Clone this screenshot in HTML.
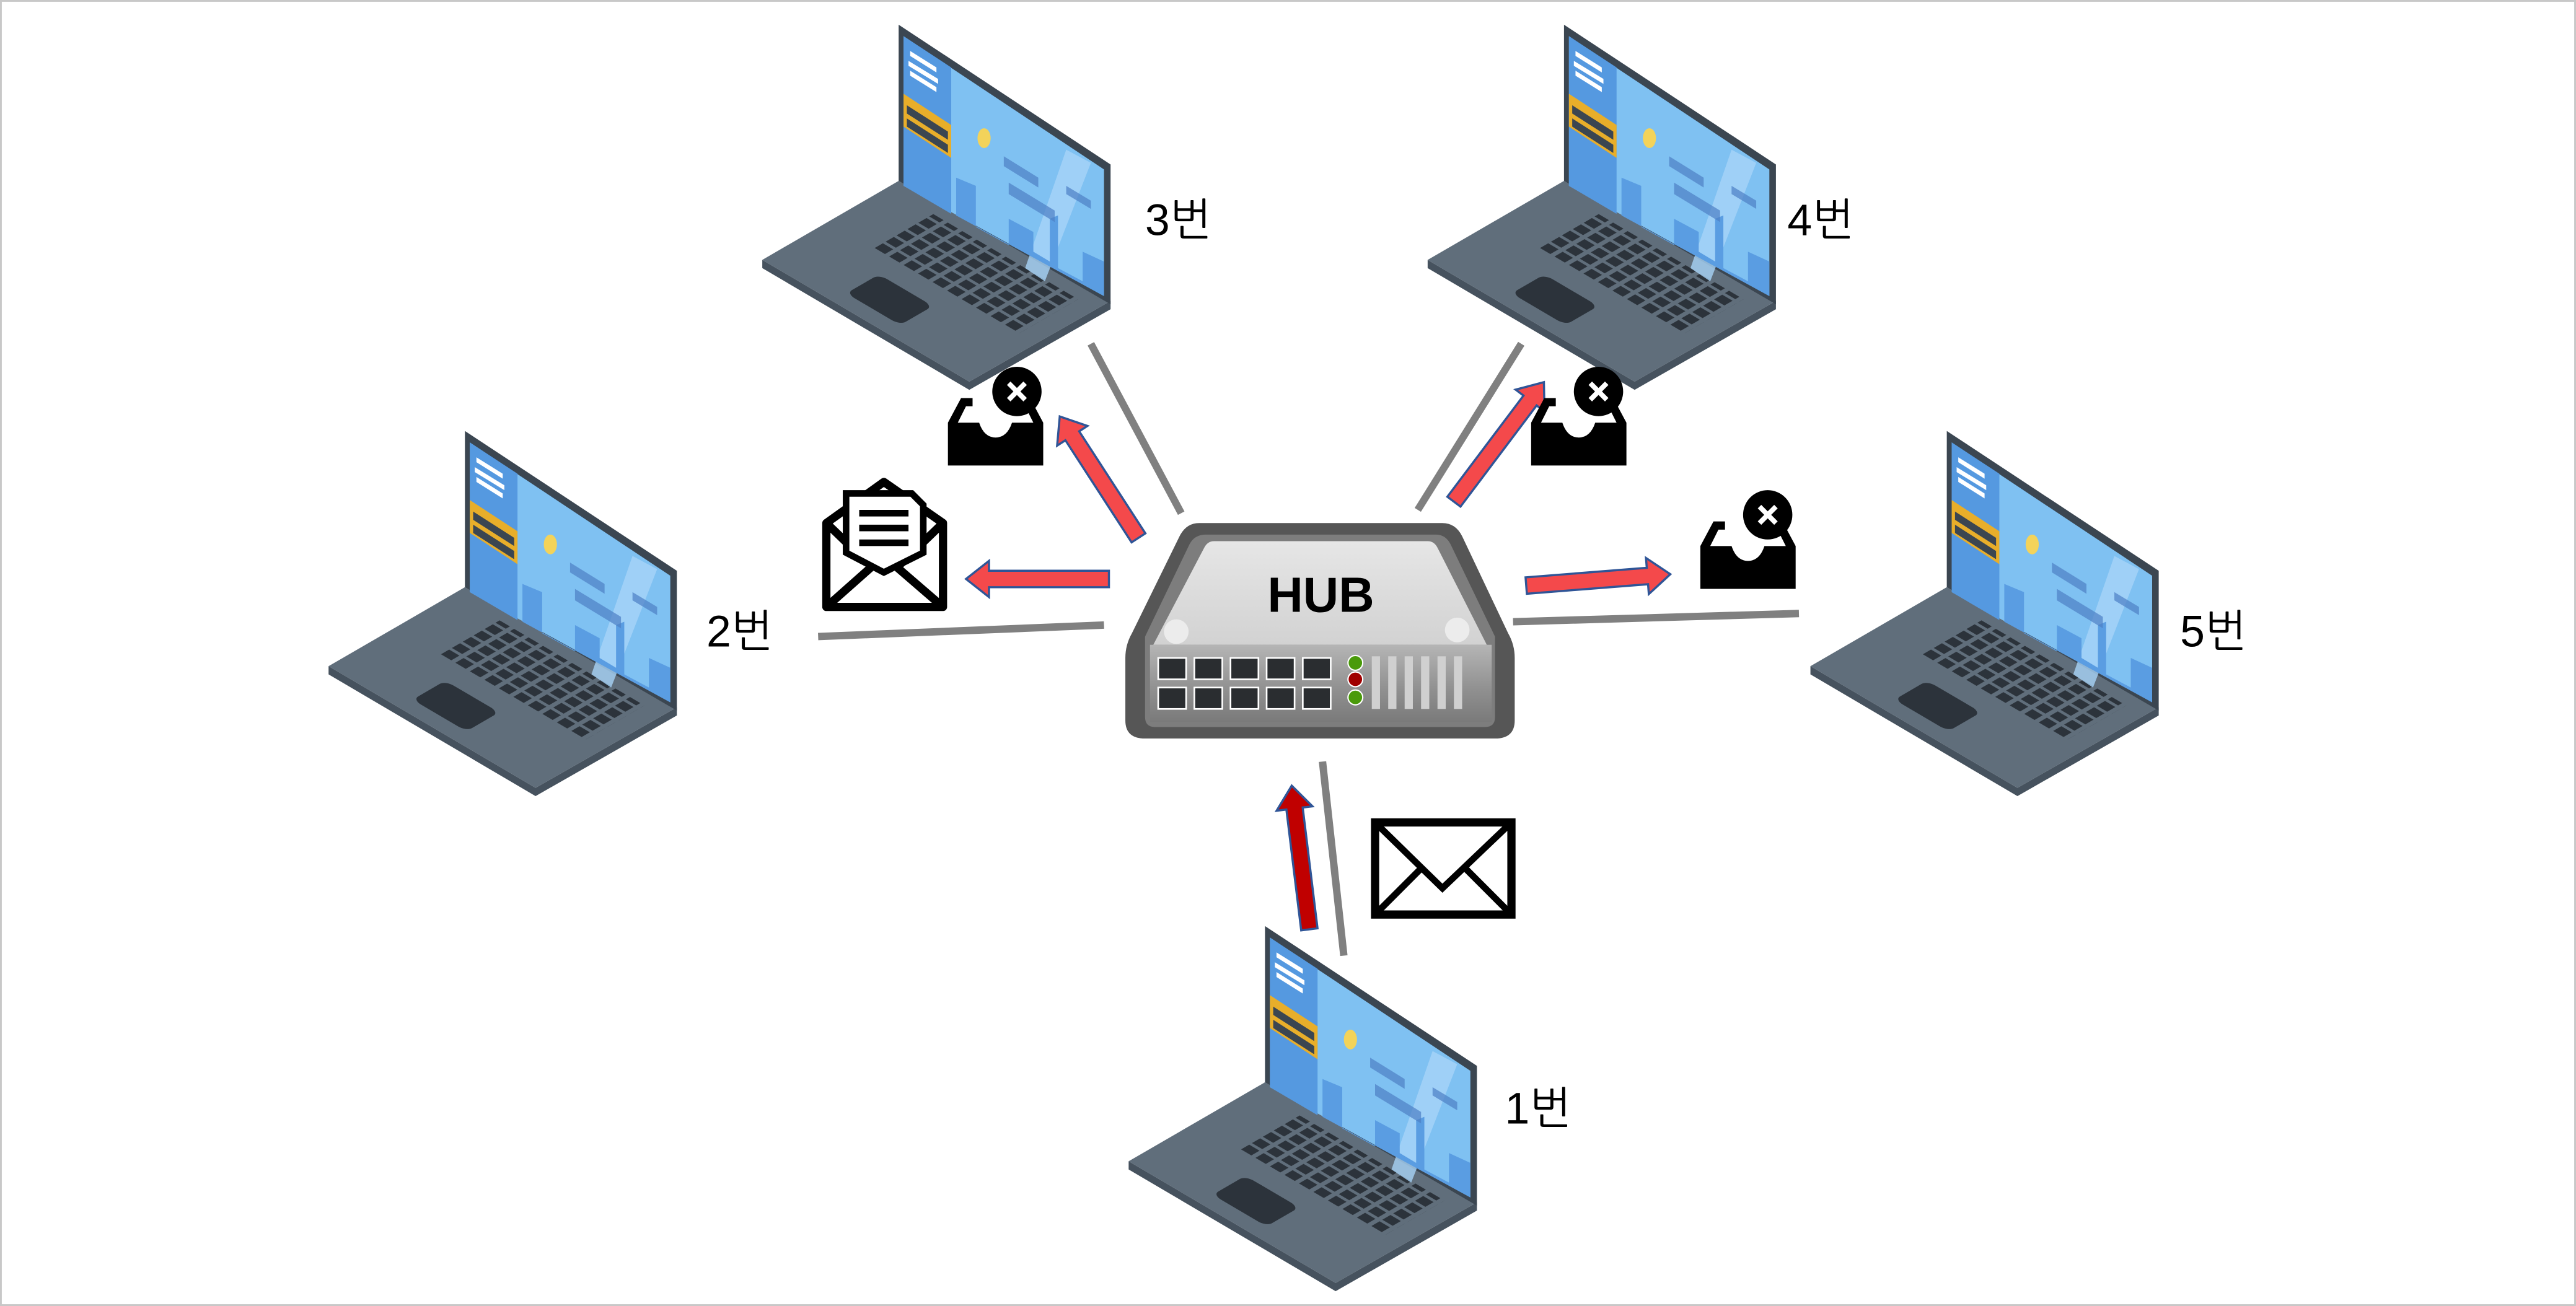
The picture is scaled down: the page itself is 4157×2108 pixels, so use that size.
<!DOCTYPE html>
<html><head><meta charset="utf-8"><style>
html,body{margin:0;padding:0;background:#fff;}
svg{display:block;}
</style></head><body>
<svg width="4157" height="2108" viewBox="0 0 1568 794" preserveAspectRatio="none" xmlns="http://www.w3.org/2000/svg">
<defs>
<pattern id="keys" width="7" height="8" patternUnits="userSpaceOnUse">
<rect x="1" y="1" width="5" height="6" fill="#2c333b"/>
</pattern>
<linearGradient id="panel" x1="0" y1="0" x2="0" y2="1">
<stop offset="0" stop-color="#b5b5b5"/><stop offset="0.6" stop-color="#8f8f8f"/><stop offset="1" stop-color="#7a7a7a"/>
</linearGradient>
<linearGradient id="face" x1="0" y1="0" x2="0" y2="1">
<stop offset="0" stop-color="#e6e6e6"/><stop offset="1" stop-color="#d2d2d2"/>
</linearGradient>
<g id="laptop">
<polygon points="0,145 126,219 212,170 212,175 126,224 0,150" fill="#46525e"/>
<polygon points="0,145 83,97 212,170 126,219" fill="#606e7b"/>
<g transform="matrix(1.26,0.74,0.83,-0.48,0,145)">
<rect x="22" y="48" width="70" height="44" fill="url(#keys)"/>
<rect x="34" y="10" width="26" height="24" rx="4" fill="#2c333b"/>
</g>
<polygon points="83,2 212,87 212,172 83,97" fill="#3b4651"/>
<polygon points="86,9 208,90 208,167 86,100" fill="#7fc1f2"/>
<polygon points="160,150 185,78 200,86 172,158" fill="#a8d3f7" opacity="0.8"/>
<polygon points="118,118 118,95 130,100 130,125 150,136 150,120 165,128 165,140 175,146 175,120 180,118 180,150 195,158 195,140 208,146 208,167" fill="#5a9de2"/>
<polygon points="86,9 115,28 115,117 86,100" fill="#5599e0"/>
<polygon points="86,44 115,63 115,83 86,64" fill="#e8ae2a"/>
<polygon points="88,51 113,67 113,72 88,56" fill="#3b4651"/>
<polygon points="88,59 113,75 113,80 88,64" fill="#3b4651"/>
<polygon points="90,18 106,28 106,31 90,21" fill="#fff"/>
<polygon points="89,24 107,35 107,38 89,27" fill="#fff"/>
<polygon points="90,30 106,40 106,43 90,33" fill="#fff"/>
<ellipse cx="135" cy="71" rx="4" ry="6" fill="#f3d35a"/>
<polygon points="147,82 168,95 168,101 147,88" fill="#4d7fc4" opacity="0.7"/>
<polygon points="150,98 178,115 178,122 150,105" fill="#4d7fc4" opacity="0.7"/>
<polygon points="185,100 200,109 200,114 185,105" fill="#4d7fc4" opacity="0.7"/>
</g>
<g id="inbox">
<path d="M0,20 L8,5 L15,5 L15,10 L11,10 L6,20 L19,20 Q22,29 29,29 Q36,29 39,20 L52,20 L47,10 L43,10 L43,5 L50,5 L58,20 L58,46 L0,46Z" fill="#000"/>
</g>
<g id="xc"><circle r="15" fill="#000"/><path d="M-5,-5 L5,5 M5,-5 L-5,5" stroke="#fff" stroke-width="3"/></g>
</defs>
<rect x="0.5" y="0.5" width="1567" height="793" fill="#fff" stroke="#c8c8c8" stroke-width="1.2"/>

<g stroke="#808080" stroke-width="4.5">
<line x1="664" y1="209" x2="719" y2="312"/>
<line x1="926" y1="209" x2="863" y2="310"/>
<line x1="498" y1="387" x2="672" y2="380"/>
<line x1="921" y1="378" x2="1095" y2="373"/>
<line x1="805" y1="463" x2="818" y2="581"/>
</g>

<use href="#laptop" transform="translate(464,13)"/>
<use href="#laptop" transform="translate(869,13)"/>
<use href="#laptop" transform="translate(200,260)"/>
<use href="#laptop" transform="translate(1102,260)"/>
<use href="#laptop" transform="translate(687,561)"/>

<g font-family="Liberation Sans, NanumGothic, 'Noto Sans CJK KR', sans-serif" font-size="27" fill="#000">
<text x="697" y="143">3번</text>
<text x="1088" y="143">4번</text>
<text x="430" y="393">2번</text>
<text x="1327" y="393">5번</text>
<text x="916" y="683">1번</text>
</g>

<g stroke="#2f5597" stroke-width="1.3">
<g transform="translate(693,327) rotate(-123)"><polygon points="0,-5 74,-5 74,-11 88,0 74,11 74,5 0,5" fill="#f4494b"/></g>
<g transform="translate(675,352) rotate(180)"><polygon points="0,-5 73,-5 73,-11 87,0 73,11 73,5 0,5" fill="#f4494b"/></g>
<g transform="translate(885,305) rotate(-53)"><polygon points="0,-5 77,-5 77,-11 91,0 77,11 77,5 0,5" fill="#f4494b"/></g>
<g transform="translate(929,356) rotate(-4.5)"><polygon points="0,-5 74,-5 74,-11 88,0 74,11 74,5 0,5" fill="#f4494b"/></g>
<g transform="translate(797,565) rotate(-97)"><polygon points="0,-5 74,-5 74,-11 88,0 74,11 74,5 0,5" fill="#c00000"/></g>
</g>

<path d="M730,318 L878,318 Q886,318 890,326 L918,385 Q922,392 922,400 L922,438 Q922,449 910,449 L697,449 Q685,449 685,438 L685,400 Q685,392 689,385 L718,326 Q722,318 730,318Z" fill="#565656"/>
<path d="M734,325 L874,325 Q880,325 883,331 L910,387 L910,436 Q910,442 904,442 L703,442 Q697,442 697,436 L697,387 L724,331 Q727,325 734,325Z" fill="#7d7d7d"/>
<path d="M739,329 L869,329 Q873,329 875,333 L905,392 L702,392 L733,333 Q735,329 739,329Z" fill="url(#face)"/>
<rect x="700" y="392" width="208" height="47" fill="url(#panel)"/>
<circle cx="716" cy="384" r="7.5" fill="#ececec"/>
<circle cx="887" cy="383" r="7.5" fill="#ececec"/>
<text x="804" y="372" text-anchor="middle" font-family="Liberation Sans, sans-serif" font-weight="bold" font-size="30" fill="#000">HUB</text>
<g fill="#2a2d30" stroke="#fff" stroke-width="1">
<rect x="705" y="400" width="17" height="13"/><rect x="727" y="400" width="17" height="13"/><rect x="749" y="400" width="17" height="13"/><rect x="771" y="400" width="17" height="13"/><rect x="793" y="400" width="17" height="13"/>
<rect x="705" y="418" width="17" height="13"/><rect x="727" y="418" width="17" height="13"/><rect x="749" y="418" width="17" height="13"/><rect x="771" y="418" width="17" height="13"/><rect x="793" y="418" width="17" height="13"/>
</g>
<g stroke="#fff" stroke-width="0.8">
<circle cx="825" cy="403" r="4.5" fill="#4a9a0a"/>
<circle cx="825" cy="413" r="4.5" fill="#a00000"/>
<circle cx="825" cy="424" r="4.5" fill="#4a9a0a"/>
</g>
<g fill="#d0d0d0">
<rect x="835" y="399" width="5" height="32"/><rect x="845" y="399" width="5" height="32"/><rect x="855" y="399" width="5" height="32"/><rect x="865" y="399" width="5" height="32"/><rect x="875" y="399" width="5" height="32"/><rect x="885" y="399" width="5" height="32"/>
</g>

<use href="#inbox" transform="translate(577,237)"/>
<use href="#xc" transform="translate(619,238)"/>
<use href="#inbox" transform="translate(932,237)"/>
<use href="#xc" transform="translate(973,238)"/>
<use href="#inbox" transform="translate(1035,312)"/>
<use href="#xc" transform="translate(1076,313)"/>

<g fill="none" stroke="#000" stroke-width="5" stroke-linejoin="round">
<path d="M503,318 L538,293 L574,318 L574,369 L503,369 Z"/>
<path d="M503,369 L538,338 L574,369"/>
<path d="M503,318 L530,344 M574,318 L547,344"/>
</g>
<path d="M515,300 L555,300 L562,307 L562,336 L538,348 L515,336 Z" fill="#fff" stroke="#000" stroke-width="4"/>
<g stroke="#000" stroke-width="4"><line x1="523" y1="312" x2="553" y2="312"/><line x1="523" y1="321" x2="553" y2="321"/><line x1="523" y1="330" x2="553" y2="330"/></g>

<rect x="837" y="500" width="83" height="56" fill="#fff" stroke="#000" stroke-width="5"/>
<path d="M837,500 L878,540 L920,500 M837,556 L865,528 M920,556 L892,528" fill="none" stroke="#000" stroke-width="4"/>
</svg>
</body></html>
